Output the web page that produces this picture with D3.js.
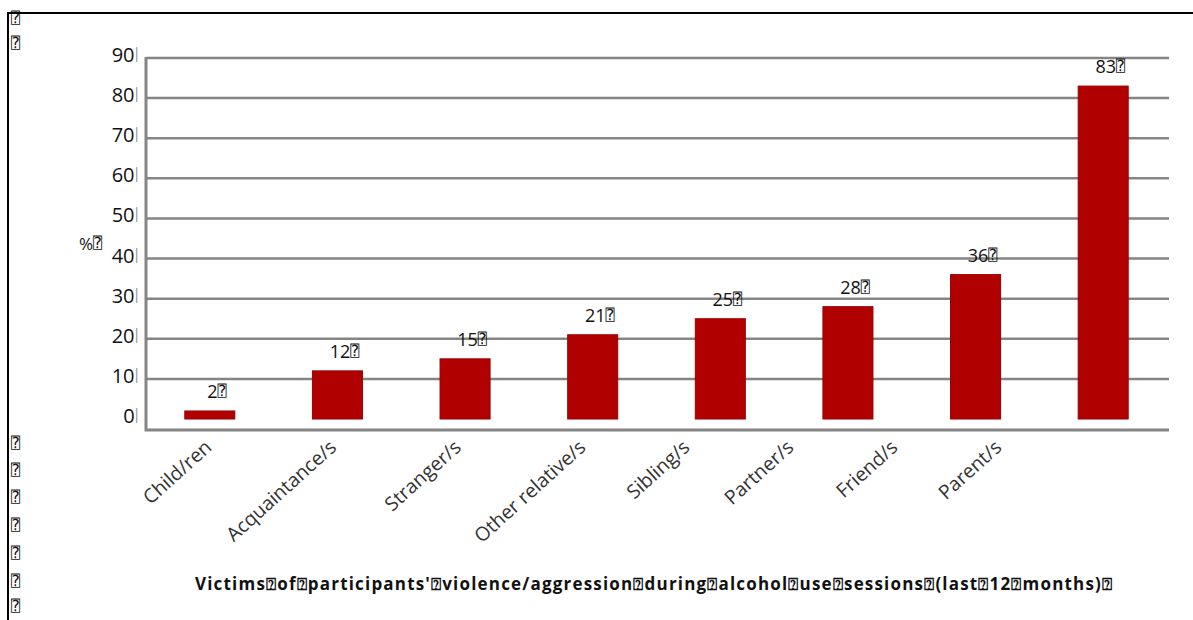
<!DOCTYPE html>
<html>
<head>
<meta charset="utf-8">
<script src="https://cdn.jsdelivr.net/npm/d3@7"></script>
<style>
    body { margin: 0; background: #fff; }
    svg { display: block; font-family: "Open Sans", "Noto Sans", sans-serif; }
    .grid line { stroke: #858585; stroke-width: 2.5; }
    .tick-label { font-size: 20px; fill: #111; }
    .value-label { font-size: 18px; fill: #111; }
    .cat-label { font-size: 19.5px; fill: #333; }
    .box { font-family: "DejaVu Sans Mono", "DejaVu Sans", monospace; font-size: 15px; fill: #111; }
</style>
</head>
<body>
<div id="chart"></div>
<script>
document.addEventListener('DOMContentLoaded', () => {
    // --- Data ---
    const categories = ['Child/ren', 'Acquaintance/s', 'Stranger/s', 'Other relative/s',
                        'Sibling/s', 'Partner/s', 'Friend/s', 'Parent/s'];
    const values = [2, 12, 15, 21, 25, 28, 36, 83];
    const yTicks = [0, 10, 20, 30, 40, 50, 60, 70, 80, 90];
    const yLabel = '%';
    const missing = '\u2370';   // the "missing glyph" boxes of the original
    const titleWords = ['Victims', 'of', "participants'", 'violence/aggression', 'during',
                        'alcohol', 'use', 'sessions', '(last', '12', 'months)'];

    const width = 1193;
    const height = 620;

    const svg = d3.select('#chart').append('svg')
        .attr('width', width)
        .attr('height', height);

    // --- scales ---
    const x = d3.scaleBand()
        .domain(categories)
        .range([146, 1167])
        .paddingInner(0.608)
        .paddingOuter(0.304);

    const y = d3.scaleLinear()
        .domain([0, 90])
        .range([419, 58]);

    // the rotated labels in the original drift left of their bars
    const labelX = d3.scaleLinear()
        .domain([0, 3, 7])
        .range([213, 587, 1003]);

    // --- gridlines ---
    svg.append('g')
        .attr('class', 'grid')
        .selectAll('line')
        .data(yTicks.filter(d => d > 0))
        .join('line')
        .attr('x1', 146)
        .attr('x2', 1169)
        .attr('y1', d => y(d))
        .attr('y2', d => y(d));

    // frame of plot area (left axis + bottom axis)
    const baseY = y(0) + 11;
    svg.append('path')
        .attr('d', `M146,${y(90) - 1}V${baseY}H1169`)
        .attr('fill', 'none')
        .attr('stroke', '#858585')
        .attr('stroke-width', 3);

    // --- y tick labels ---
    const tickText = svg.append('g').selectAll('text')
        .data(yTicks)
        .join('text')
        .attr('class', 'tick-label')
        .attr('x', 139)
        .attr('y', d => y(d) - 4)
        .attr('text-anchor', 'end')
        .attr('dominant-baseline', 'central');
    tickText.append('tspan').text(d => d);
    tickText.append('tspan')
        .attr('font-family', 'DejaVu Sans')
        .attr('font-size', 15)
        .attr('font-weight', 200)
        .attr('fill', '#666')
        .text('\u01C0');

    svg.append('text')
        .attr('class', 'value-label')
        .attr('x', 79)
        .attr('y', 243)
        .attr('dominant-baseline', 'central')
        .call(t => {
            t.append('tspan').attr('font-size', 17).text(yLabel);
            t.append('tspan').attr('class', 'box').text(missing);
        });

    // --- bars ---
    svg.append('g')
        .selectAll('rect')
        .data(values)
        .join('rect')
        .attr('x', (d, i) => x(categories[i]))
        .attr('y', d => y(d))
        .attr('width', x.bandwidth())
        .attr('height', d => y(0) - y(d))
        .attr('fill', '#b10000')
        .attr('stroke', '#9a0000')
        .attr('stroke-width', 1);

    // --- value labels ---
    const valText = svg.append('g').selectAll('text')
        .data(values)
        .join('text')
        .attr('class', 'value-label')
        .attr('x', (d, i) => x(categories[i]) + x.bandwidth() / 2 + 7)
        .attr('y', d => y(d) - 20)
        .attr('text-anchor', 'middle')
        .attr('dominant-baseline', 'central');
    valText.append('tspan').text(d => d);
    valText.append('tspan').attr('class', 'box').text(missing);

    // --- category labels ---
    svg.append('g').selectAll('text')
        .data(categories)
        .join('text')
        .attr('class', 'cat-label')
        .attr('text-anchor', 'end')
        .attr('transform', (d, i) => `translate(${labelX(i)},${449}) rotate(-42)`)
        .text(d => d);

    // --- title (spaces came out as boxes) ---
    svg.append('text')
        .attr('x', 195)
        .attr('y', 583)
        .attr('dominant-baseline', 'central')
        .attr('font-size', 17)
        .attr('font-weight', 'bold')
        .attr('fill', '#111')
        .attr('textLength', 917)
        .attr('lengthAdjust', 'spacing')
        .text(titleWords.join(missing) + missing);

    // --- left margin boxes ---
    const marginRows = [18, 43, 443, 470, 497, 525, 553, 581, 606];
    svg.append('g').selectAll('text')
        .data(marginRows)
        .join('text')
        .attr('class', 'box')
        .attr('x', 11)
        .attr('y', d => d)
        .attr('dominant-baseline', 'central')
        .text(missing);

    // --- page frame ---
    svg.append('path')
        .attr('d', `M8,${height}V13H${width}`)
        .attr('fill', 'none')
        .attr('stroke', '#000')
        .attr('stroke-width', 2);
});
</script>
</body>
</html>
